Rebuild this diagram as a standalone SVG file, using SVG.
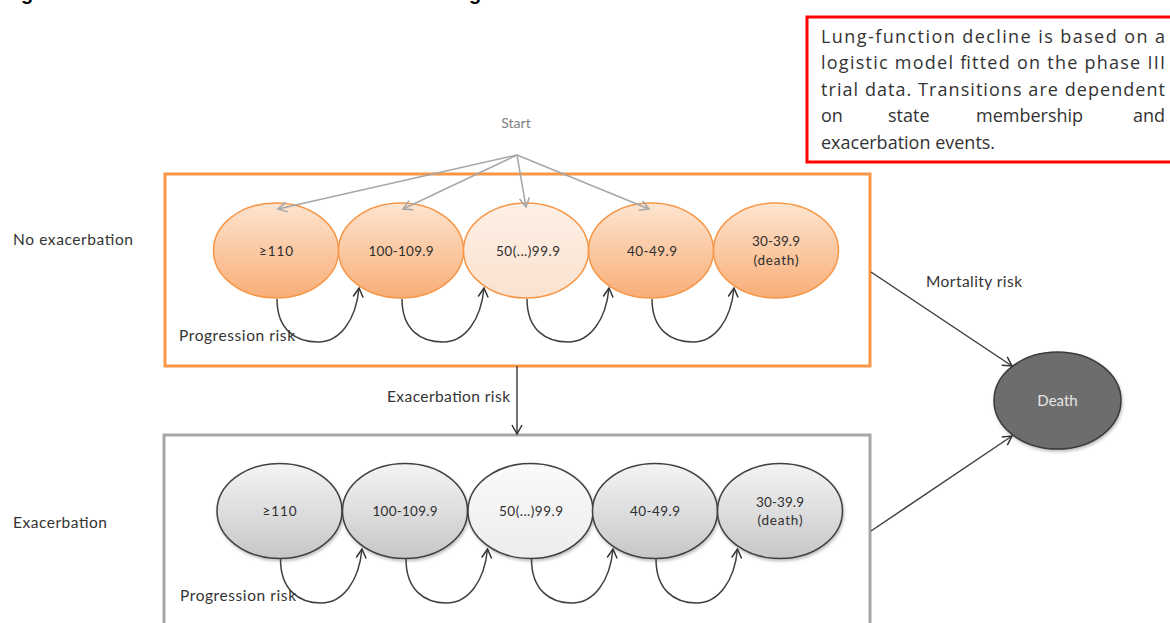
<svg xmlns="http://www.w3.org/2000/svg" width="1170" height="623" viewBox="0 0 1170 623">
<style>
.lbl{font-family:Lato,"Open Sans","Liberation Sans",sans-serif;font-size:15.5px;fill:#333}
.st{font-family:Lato,"Open Sans","Liberation Sans",sans-serif;font-size:13.5px;fill:#2e2e2e;text-anchor:middle;dominant-baseline:central}
.note{font-family:"Open Sans",Lato,"Liberation Sans",sans-serif;font-size:18px;fill:#333}
.oe{stroke:#f79646;stroke-width:1.5}
.ge{stroke:#404040;stroke-width:1.5;filter:url(#sh)}
.con{fill:none;stroke:#404040;stroke-width:1.5}
.sa{fill:none;stroke:#a6a6a6;stroke-width:1.5}
</style>
<defs>
<filter id="sh" x="-20%" y="-20%" width="140%" height="150%">
<feDropShadow dx="1" dy="2" stdDeviation="1.5" flood-color="#000" flood-opacity="0.25"/>
</filter>
<linearGradient id="og" x1="0" y1="0" x2="0" y2="1">
<stop offset="0" stop-color="#fde4d0"/><stop offset="0.5" stop-color="#fbc9a3"/><stop offset="1" stop-color="#f8ae78"/>
</linearGradient>
<linearGradient id="og2" x1="0" y1="0" x2="0" y2="1">
<stop offset="0" stop-color="#fdf0e6"/><stop offset="1" stop-color="#fbe2cf"/>
</linearGradient>
<linearGradient id="gg" x1="0" y1="0" x2="0" y2="1">
<stop offset="0" stop-color="#f4f4f4"/><stop offset="0.5" stop-color="#dedede"/><stop offset="1" stop-color="#c6c6c6"/>
</linearGradient>
<linearGradient id="gg2" x1="0" y1="0" x2="0" y2="1">
<stop offset="0" stop-color="#fafafa"/><stop offset="1" stop-color="#ececec"/>
</linearGradient>
<marker id="ah" markerWidth="12" markerHeight="12" refX="10" refY="6" orient="auto" markerUnits="userSpaceOnUse">
<path d="M1,1 L10,6 L1,11" fill="none" stroke="#333" stroke-width="1.5"/>
</marker>
<marker id="ahg" markerWidth="12" markerHeight="12" refX="10" refY="6" orient="auto" markerUnits="userSpaceOnUse">
<path d="M1,1 L10,6 L1,11" fill="none" stroke="#a6a6a6" stroke-width="1.5"/>
</marker>
</defs>
<rect width="1170" height="623" fill="#fff"/>

<g id="title-fragment" font-family="'Liberation Sans',Arial,sans-serif" font-weight="bold" font-size="20" fill="#000">
<text x="21" y="0">g</text>
<text x="469" y="0">g</text>
</g>

<g id="note">
<rect x="807" y="17" width="380" height="145" fill="#fff" stroke="#ff0000" stroke-width="3"/>
<text class="note" x="821" y="43" textLength="344" lengthAdjust="spacing">Lung-function decline is based on a</text>
<text class="note" x="821" y="69" textLength="344" lengthAdjust="spacing">logistic model fitted on the phase III</text>
<text class="note" x="821" y="96" textLength="344" lengthAdjust="spacing">trial data. Transitions are dependent</text>
<text class="note" x="821" y="122">on</text>
<text class="note" x="888" y="122">state</text>
<text class="note" x="976" y="122">membership</text>
<text class="note" x="1165" y="122" text-anchor="end">and</text>
<text class="note" x="821" y="149">exacerbation events.</text>
</g>

<g id="start"><text class="st" x="516" y="122" style="fill:#808080;font-size:14px">Start</text></g>

<g id="no-exacerbation-box">
<rect x="165" y="174" width="705" height="192" fill="none" stroke="#f79646" stroke-width="3"/>
<text class="lbl" x="13" y="245" textLength="120" lengthAdjust="spacing">No exacerbation</text>
</g>
<g id="exacerbation-box">
<rect x="164" y="435" width="706" height="200" fill="none" stroke="#a6a6a6" stroke-width="3"/>
<text class="lbl" x="13" y="528" textLength="94" lengthAdjust="spacing">Exacerbation</text>
</g>

<g id="ne1"><ellipse class="oe" cx="276" cy="250.5" rx="62.5" ry="47.5" fill="url(#og)"/><text class="st" x="276" y="251" textLength="34" lengthAdjust="spacing">≥110</text></g>
<g id="ne2"><ellipse class="oe" cx="401" cy="250.5" rx="62.5" ry="47.5" fill="url(#og)"/><text class="st" x="401" y="251" textLength="65" lengthAdjust="spacing">100-109.9</text></g>
<g id="ne3"><ellipse class="oe" cx="526" cy="250.5" rx="62.5" ry="47.5" fill="url(#og2)"/><text class="st" x="528" y="251" textLength="64" lengthAdjust="spacing">50(...)99.9</text></g>
<g id="ne4"><ellipse class="oe" cx="651" cy="250.5" rx="62.5" ry="47.5" fill="url(#og)"/><text class="st" x="652" y="251" textLength="50" lengthAdjust="spacing">40-49.9</text></g>
<g id="ne5"><ellipse class="oe" cx="776" cy="250.5" rx="62.5" ry="47.5" fill="url(#og)"/><text class="st" x="776" y="241" textLength="48" lengthAdjust="spacing">30-39.9</text><text class="st" x="776" y="260" textLength="45" lengthAdjust="spacing">(death)</text></g>

<g id="ex1"><ellipse class="ge" cx="279.5" cy="511" rx="62.5" ry="47.5" fill="url(#gg)"/><text class="st" x="279.5" y="511" textLength="34" lengthAdjust="spacing">≥110</text></g>
<g id="ex2"><ellipse class="ge" cx="405" cy="511" rx="62.5" ry="47.5" fill="url(#gg)"/><text class="st" x="405" y="511" textLength="65" lengthAdjust="spacing">100-109.9</text></g>
<g id="ex3"><ellipse class="ge" cx="530.5" cy="511" rx="62.5" ry="47.5" fill="url(#gg2)"/><text class="st" x="531" y="511" textLength="64" lengthAdjust="spacing">50(...)99.9</text></g>
<g id="ex4"><ellipse class="ge" cx="655" cy="511" rx="62.5" ry="47.5" fill="url(#gg)"/><text class="st" x="655" y="511" textLength="50" lengthAdjust="spacing">40-49.9</text></g>
<g id="ex5"><ellipse class="ge" cx="780" cy="511" rx="62.5" ry="47.5" fill="url(#gg)"/><text class="st" x="780" y="502" textLength="48" lengthAdjust="spacing">30-39.9</text><text class="st" x="780" y="520" textLength="45" lengthAdjust="spacing">(death)</text></g>

<g id="death"><ellipse cx="1057.5" cy="400.5" rx="63.5" ry="48.5" fill="#6d6d6d" stroke="#3a3a3a" stroke-width="1.5" filter="url(#sh)"/><text class="st" x="1057.5" y="400" style="fill:#e6e6e6;font-size:15px">Death</text></g>

<g id="connectors">
<line class="sa" x1="517" y1="155" x2="278" y2="209" marker-end="url(#ahg)"/>
<line class="sa" x1="517" y1="155" x2="403" y2="209" marker-end="url(#ahg)"/>
<line class="sa" x1="517" y1="155" x2="526" y2="207" marker-end="url(#ahg)"/>
<line class="sa" x1="517" y1="155" x2="649" y2="209" marker-end="url(#ahg)"/>

<path class="con" d="M277,299 C277,330 296,342 318,342 C340,342 356,320 359,288" marker-end="url(#ah)"/>
<path class="con" d="M402,299 C402,330 421,342 443,342 C465,342 481,320 484,288" marker-end="url(#ah)"/>
<path class="con" d="M527,299 C527,330 546,342 568,342 C590,342 606,320 609,288" marker-end="url(#ah)"/>
<path class="con" d="M652,299 C652,330 671,342 693,342 C715,342 731,320 734,288" marker-end="url(#ah)"/>

<path class="con" d="M280.5,559 C280.5,590 299,603 321,603 C343,603 359,581 362,549" marker-end="url(#ah)"/>
<path class="con" d="M406,559 C406,590 424.5,603 446.5,603 C468.5,603 484.5,581 487.5,549" marker-end="url(#ah)"/>
<path class="con" d="M531.5,559 C531.5,590 550,603 572,603 C594,603 610,581 613,549" marker-end="url(#ah)"/>
<path class="con" d="M656,559 C656,590 674.5,603 696.5,603 C718.5,603 734.5,581 737.5,549" marker-end="url(#ah)"/>

<line class="con" x1="517" y1="366" x2="517" y2="434" marker-end="url(#ah)"/>
<line class="con" x1="871" y1="272" x2="1012" y2="366" marker-end="url(#ah)"/>
<line class="con" x1="871" y1="531" x2="1012" y2="436" marker-end="url(#ah)"/>
</g>

<g id="labels">
<text class="lbl" x="179" y="341" textLength="116" lengthAdjust="spacing">Progression risk</text>
<text class="lbl" x="180" y="601" textLength="116" lengthAdjust="spacing">Progression risk</text>
<text class="lbl" x="387" y="402" textLength="123" lengthAdjust="spacing">Exacerbation risk</text>
<text class="lbl" x="926" y="287" textLength="96" lengthAdjust="spacing">Mortality risk</text>
</g>
</svg>
